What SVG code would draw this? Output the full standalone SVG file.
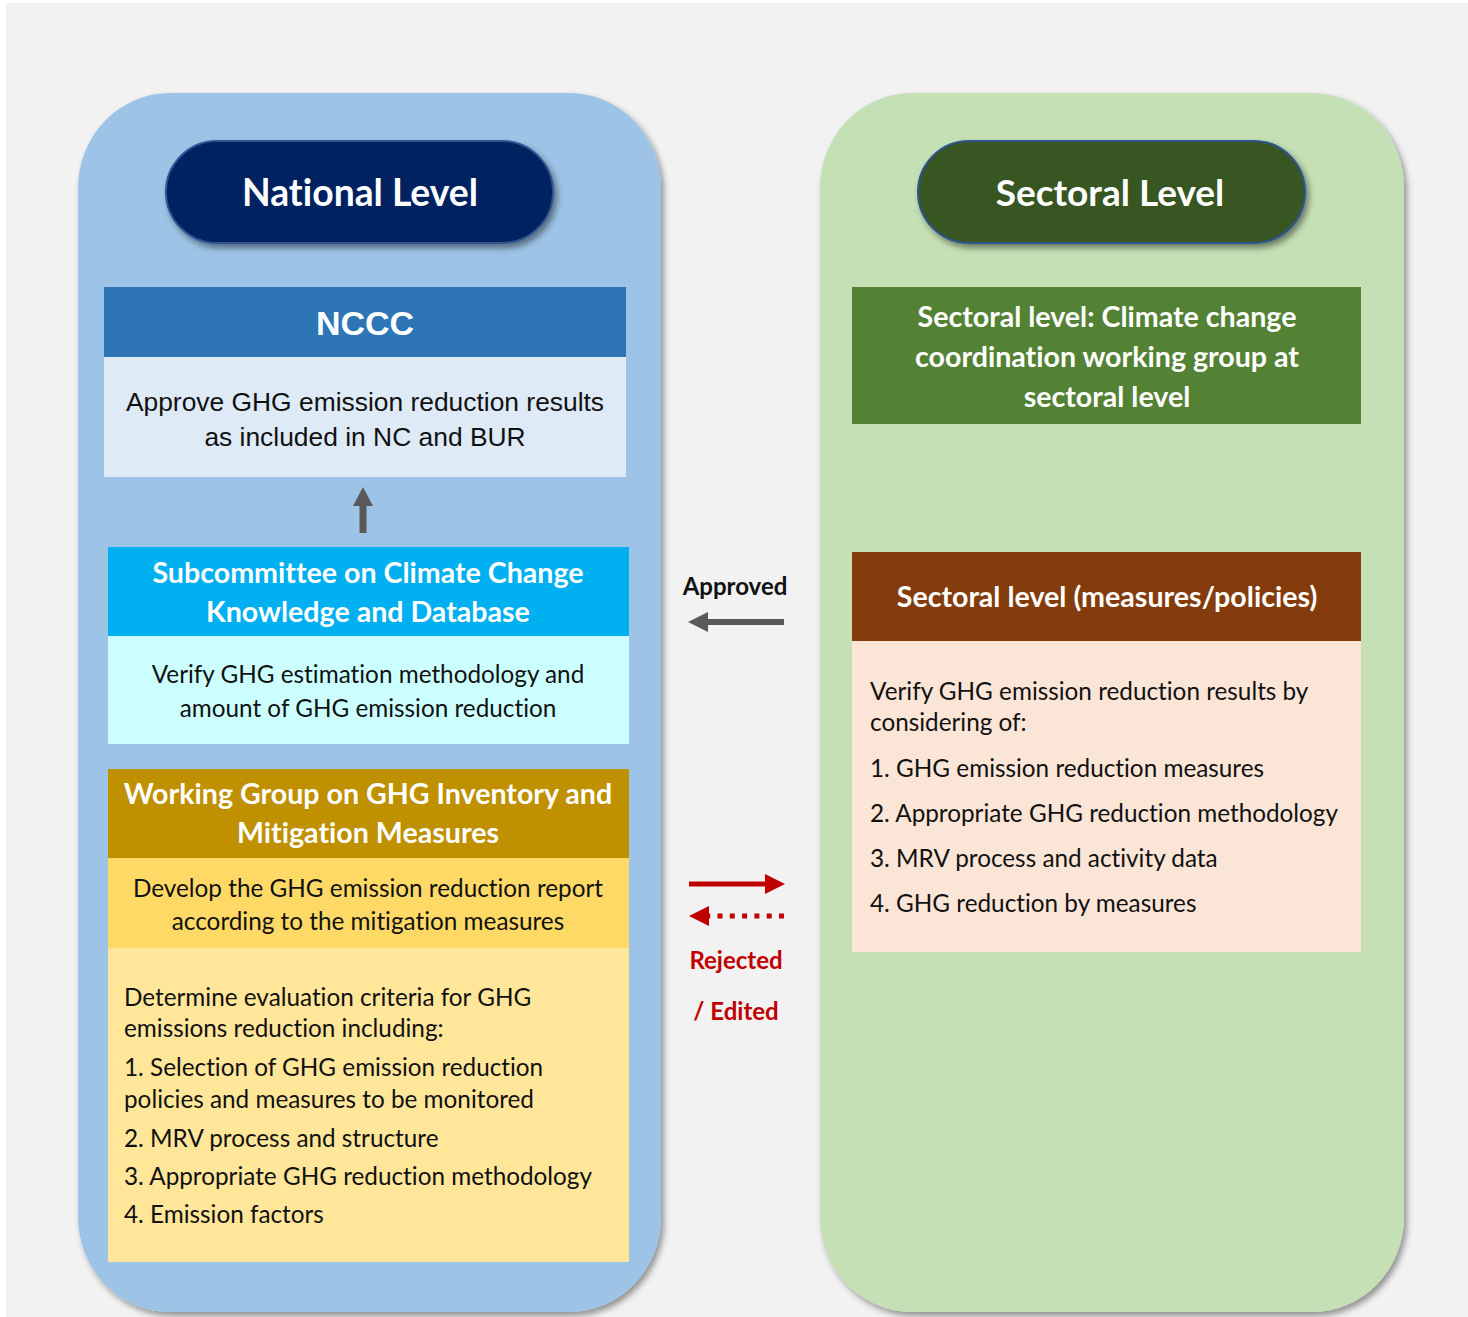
<svg xmlns="http://www.w3.org/2000/svg" width="1468" height="1317" viewBox="0 0 1468 1317">
<defs>
<style>
.cal{font-family:Lato,"Open Sans","DejaVu Sans",sans-serif;font-variant-ligatures:none;font-feature-settings:"liga" 0,"dlig" 0}
.ar{font-family:"Liberation Sans",Arial,sans-serif}
.wb{fill:#fff;font-weight:bold}
.bk{fill:#111}
.mid{text-anchor:middle}
.hd{font-size:28.6px}
.bd{font-size:24.3px}
</style>
<filter id="sh" x="-10%" y="-10%" width="120%" height="120%">
<feDropShadow dx="3" dy="4" stdDeviation="3" flood-color="#000" flood-opacity="0.4"/>
</filter>
<filter id="shp" x="-10%" y="-20%" width="120%" height="150%">
<feDropShadow dx="3" dy="4" stdDeviation="3" flood-color="#000" flood-opacity="0.45"/>
</filter>
</defs>
<rect x="0" y="0" width="1468" height="1317" fill="#ffffff"/>
<rect x="6" y="3" width="1462" height="1314" fill="#f2f2f2"/>

<g id="national-panel">
<rect x="78" y="93" width="583" height="1219" rx="92" ry="95" fill="#9dc3e6" filter="url(#sh)"/>
</g>
<g id="sectoral-panel">
<rect x="820" y="93" width="584" height="1219" rx="92" ry="95" fill="#c5e0b4" filter="url(#sh)"/>
</g>

<g id="national-level">
<rect x="166" y="141" width="387" height="102" rx="51" ry="51" fill="#002060" stroke="#2f528f" stroke-width="2" filter="url(#shp)"/>
<text x="360" y="206" class="cal wb mid" font-size="37.3">National Level</text>
</g>

<g id="sectoral-level">
<rect x="918" y="141" width="387" height="102" rx="51" ry="51" fill="#385723" stroke="#2f528f" stroke-width="2" filter="url(#shp)"/>
<text x="1110" y="206" class="cal wb mid" font-size="37">Sectoral Level</text>
</g>

<g id="nccc">
<rect x="104" y="287" width="522" height="70" fill="#2e75b6"/>
<rect x="104" y="357" width="522" height="120" fill="#deebf7"/>
<text x="365" y="335" class="ar wb mid" font-size="34">NCCC</text>
<text x="365" y="411" class="ar bk mid" font-size="26.4">Approve GHG emission reduction results</text>
<text x="365" y="446" class="ar bk mid" font-size="26.4">as included in NC and BUR</text>
</g>

<g id="subcommittee">
<rect x="108" y="547" width="521" height="89" fill="#00b0f0"/>
<rect x="108" y="636" width="521" height="108" fill="#ccffff"/>
<text x="368" y="583" class="cal wb mid hd">Subcommittee on Climate Change</text>
<text x="368" y="622" class="cal wb mid hd">Knowledge and Database</text>
<text x="368" y="683" class="cal bk mid bd">Verify GHG estimation methodology and</text>
<text x="368" y="717" class="cal bk mid bd">amount of GHG emission reduction</text>
</g>

<g id="working-group">
<rect x="108" y="769" width="521" height="89" fill="#bf9000"/>
<rect x="108" y="858" width="521" height="90" fill="#ffd966"/>
<rect x="108" y="948" width="521" height="314" fill="#ffe699"/>
<text x="368" y="804" class="cal wb mid hd">Working Group on GHG Inventory and</text>
<text x="368" y="843" class="cal wb mid hd">Mitigation Measures</text>
<text x="368" y="897" class="cal bk mid bd">Develop the GHG emission reduction report</text>
<text x="368" y="930" class="cal bk mid bd">according to the mitigation measures</text>
<text x="124" y="1006" class="cal bk bd">Determine evaluation criteria for GHG</text>
<text x="124" y="1037" class="cal bk bd">emissions reduction including:</text>
<text x="124" y="1076" class="cal bk bd">1. Selection of GHG emission reduction</text>
<text x="124" y="1108" class="cal bk bd">policies and measures to be monitored</text>
<text x="124" y="1147" class="cal bk bd">2. MRV process and structure</text>
<text x="124" y="1185" class="cal bk bd">3. Appropriate GHG reduction methodology</text>
<text x="124" y="1223" class="cal bk bd">4. Emission factors</text>
</g>

<g id="sectoral-working-group">
<rect x="852" y="287" width="509" height="137" fill="#548235"/>
<text x="1107" y="327" class="cal wb mid hd">Sectoral level: Climate change</text>
<text x="1107" y="367" class="cal wb mid hd">coordination working group at</text>
<text x="1107" y="407" class="cal wb mid hd">sectoral level</text>
</g>

<g id="sectoral-measures">
<rect x="852" y="552" width="509" height="89" fill="#843c0c"/>
<rect x="852" y="641" width="509" height="311" fill="#fbe5d6"/>
<text x="1107" y="607" class="cal wb mid hd">Sectoral level (measures/policies)</text>
<text x="870" y="700" class="cal bk bd">Verify GHG emission reduction results by</text>
<text x="870" y="731" class="cal bk bd">considering of:</text>
<text x="870" y="777" class="cal bk bd">1. GHG emission reduction measures</text>
<text x="870" y="822" class="cal bk bd">2. Appropriate GHG reduction methodology</text>
<text x="870" y="867" class="cal bk bd">3. MRV process and activity data</text>
<text x="870" y="912" class="cal bk bd">4. GHG reduction by measures</text>
</g>

<g id="connectors">
<path d="M363 533 V505" stroke="#595959" stroke-width="7" fill="none"/>
<polygon points="363,487 373,506 353,506" fill="#595959"/>
<path d="M784 622 H706" stroke="#595959" stroke-width="6" fill="none"/>
<polygon points="688,622 708,612 708,632" fill="#595959"/>
<path d="M689 884 H767" stroke="#c00000" stroke-width="5" fill="none"/>
<polygon points="785,884 765,874 765,894" fill="#c00000"/>
<path d="M784 916 H706" stroke="#c00000" stroke-width="5" stroke-dasharray="5 7.3" fill="none"/>
<polygon points="689,916 709,906 709,926" fill="#c00000"/>
</g>

<g id="labels">
<text x="735" y="595" class="cal mid" font-size="24" font-weight="bold" fill="#111">Approved</text>
<text x="736" y="969" class="cal mid" font-size="24" font-weight="bold" fill="#c00000">Rejected</text>
<text x="736" y="1020" class="cal mid" font-size="24" font-weight="bold" fill="#c00000">/ Edited</text>
</g>
</svg>
